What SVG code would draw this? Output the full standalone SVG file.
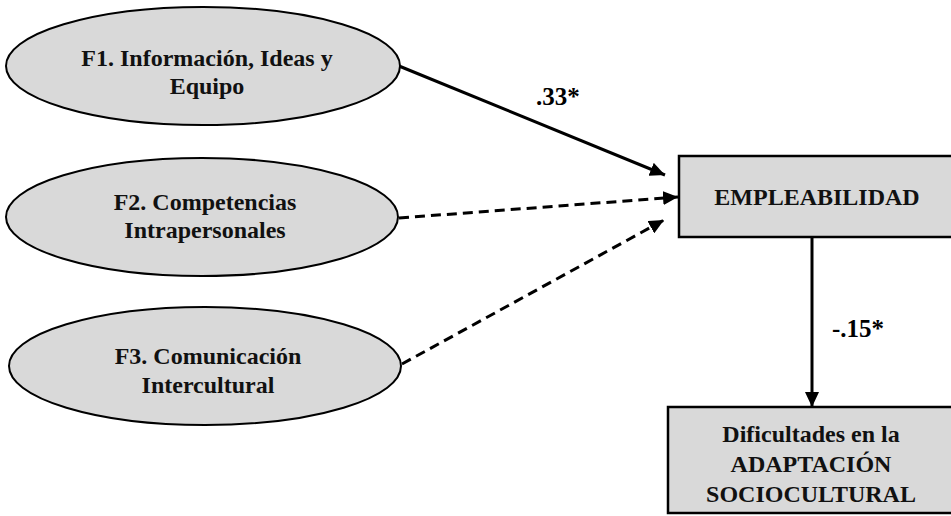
<svg xmlns="http://www.w3.org/2000/svg" width="951" height="516" viewBox="0 0 951 516">
<style>
.node{fill:#d9d9d9;stroke:#000;stroke-width:2}
.t{font-family:"Liberation Serif","Times New Roman",serif;font-weight:bold;font-size:24px;fill:#111;text-anchor:middle}
.lbl{font-family:"Liberation Serif","Times New Roman",serif;font-weight:bold;font-size:25px;fill:#000}
.c{stroke:#000;stroke-width:3;fill:none}
.d{stroke-dasharray:10 6}
</style>
<defs>
<marker id="ah" markerUnits="userSpaceOnUse" markerWidth="16" markerHeight="14" refX="15" refY="7" orient="auto">
<path d="M0,0 L15,7 L0,14 Z" fill="#000"/>
</marker>
</defs>
<rect width="951" height="516" fill="#fff"/>
<g id="connectors">
<line class="c" x1="399" y1="66" x2="665" y2="175" marker-end="url(#ah)"/>
<line class="c d" x1="399" y1="218" x2="678" y2="197" marker-end="url(#ah)"/>
<line class="c d" x1="402" y1="364" x2="664" y2="220" marker-end="url(#ah)"/>
<line class="c" x1="812" y1="237" x2="812" y2="407" marker-end="url(#ah)"/>
<text class="lbl" x="536" y="105">.33*</text>
<text class="lbl" x="832" y="337">-.15*</text>
</g>
<g id="f1">
<ellipse class="node" cx="203" cy="66" rx="197" ry="59"/>
<text class="t" x="207" y="66">F1. Información, Ideas y</text>
<text class="t" x="207" y="94">Equipo</text>
</g>
<g id="f2">
<ellipse class="node" cx="202" cy="217" rx="196" ry="59"/>
<text class="t" x="205" y="210">F2. Competencias</text>
<text class="t" x="205" y="238">Intrapersonales</text>
</g>
<g id="f3">
<ellipse class="node" cx="205" cy="366" rx="196" ry="59"/>
<text class="t" x="208" y="364">F3. Comunicación</text>
<text class="t" x="208" y="393">Intercultural</text>
</g>
<g id="empleabilidad">
<rect class="node" x="679" y="156" width="290" height="81" style="stroke-width:2.5"/>
<text class="t" x="817" y="205">EMPLEABILIDAD</text>
</g>
<g id="dificultades">
<rect class="node" x="668" y="407" width="300" height="106" style="stroke-width:2.5"/>
<text class="t" x="811" y="442">Dificultades en la</text>
<text class="t" x="811" y="472">ADAPTACIÓN</text>
<text class="t" x="811" y="502">SOCIOCULTURAL</text>
</g>
</svg>
